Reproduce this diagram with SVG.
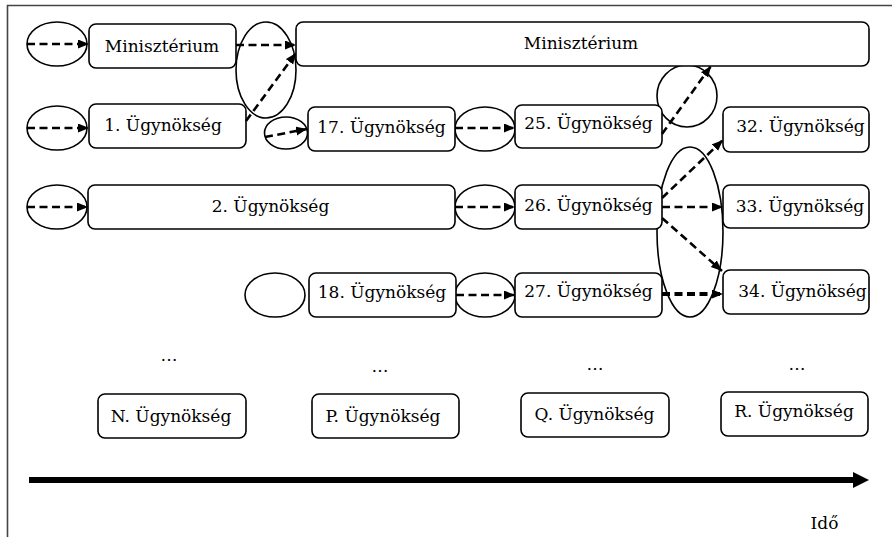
<svg xmlns="http://www.w3.org/2000/svg" width="892" height="537" viewBox="0 0 892 537">
<defs>
<marker id="ah" markerUnits="userSpaceOnUse" markerWidth="12" markerHeight="10" refX="11" refY="4.5" orient="auto">
<path d="M0,0 L11,4.5 L0,9 z" fill="#000"/>
</marker>
<style>
.box{fill:#fff;stroke:#000;stroke-width:1.6}
.ell{fill:none;stroke:#000;stroke-width:1.6}
.lbl{font-family:'DejaVu Serif',serif;font-size:17px;fill:#000;text-anchor:middle}
.dash{fill:none;stroke:#000;stroke-width:2.6;stroke-dasharray:8 4.5;marker-end:url(#ah)}
</style>
</defs>
<rect width="892" height="537" fill="#fff"/>
<path d="M7.5,537 V5.5 H892" fill="none" stroke="#444" stroke-width="1.6"/>

<g id="ellipses">
<ellipse class="ell" cx="57" cy="44" rx="30" ry="22"/>
<ellipse class="ell" cx="57" cy="128" rx="30" ry="22"/>
<ellipse class="ell" cx="57" cy="207" rx="30" ry="22"/>
<ellipse class="ell" cx="266" cy="70" rx="30" ry="48"/>
<ellipse class="ell" cx="286" cy="133" rx="21.5" ry="16"/>
<ellipse class="ell" cx="485" cy="129" rx="30" ry="22"/>
<ellipse class="ell" cx="485" cy="207" rx="30" ry="22"/>
<ellipse class="ell" cx="485" cy="295" rx="30" ry="22"/>
<ellipse class="ell" cx="275" cy="295" rx="30" ry="22"/>
<ellipse class="ell" cx="687" cy="96" rx="30" ry="31"/>
<ellipse class="ell" cx="690" cy="232" rx="33" ry="85"/>
</g>

<g id="n-mini1"><rect class="box" x="89" y="24" width="147" height="44" rx="7"/><text class="lbl" x="162" y="52">Minisztérium</text></g>
<g id="n-mini2"><rect class="box" x="296" y="22" width="573" height="44" rx="7"/><text class="lbl" x="581" y="49">Minisztérium</text></g>
<g id="n-1"><rect class="box" x="89" y="104" width="157" height="44" rx="7"/><text class="lbl" x="163" y="131">1. Ügynökség</text></g>
<g id="n-17"><rect class="box" x="308" y="107" width="147" height="44" rx="7"/><text class="lbl" x="381.5" y="133">17. Ügynökség</text></g>
<g id="n-25"><rect class="box" x="515" y="105" width="147" height="43" rx="7"/><text class="lbl" x="588.5" y="129">25. Ügynökség</text></g>
<g id="n-32"><rect class="box" x="723" y="107" width="146" height="45" rx="7"/><text class="lbl" x="800.5" y="132">32. Ügynökség</text></g>
<g id="n-2"><rect class="box" x="88" y="185" width="367" height="44" rx="7"/><text class="lbl" x="270.5" y="212">2. Ügynökség</text></g>
<g id="n-26"><rect class="box" x="515" y="185" width="147" height="44" rx="7"/><text class="lbl" x="588.5" y="211">26. Ügynökség</text></g>
<g id="n-33"><rect class="box" x="723" y="185" width="146" height="43" rx="7"/><text class="lbl" x="800" y="212">33. Ügynökség</text></g>
<g id="n-18"><rect class="box" x="309" y="273" width="147" height="44" rx="7"/><text class="lbl" x="382" y="298">18. Ügynökség</text></g>
<g id="n-27"><rect class="box" x="515" y="273" width="147" height="44" rx="7"/><text class="lbl" x="588.5" y="297">27. Ügynökség</text></g>
<g id="n-34"><rect class="box" x="723" y="270" width="146" height="44" rx="7"/><text class="lbl" x="802.5" y="297">34. Ügynökség</text></g>
<g id="n-N"><rect class="box" x="98" y="394" width="148" height="44" rx="7"/><text class="lbl" x="171" y="422">N. Ügynökség</text></g>
<g id="n-P"><rect class="box" x="312" y="394" width="147" height="44" rx="7"/><text class="lbl" x="383" y="422">P. Ügynökség</text></g>
<g id="n-Q"><rect class="box" x="521" y="393" width="148" height="44" rx="7"/><text class="lbl" x="594.5" y="420">Q. Ügynökség</text></g>
<g id="n-R"><rect class="box" x="721" y="392" width="147" height="44" rx="7"/><text class="lbl" x="794" y="417">R. Ügynökség</text></g>

<g id="dots">
<text class="lbl" x="169" y="361">…</text>
<text class="lbl" x="380" y="372">…</text>
<text class="lbl" x="595" y="370">…</text>
<text class="lbl" x="797" y="370">…</text>
</g>

<g id="connectors">
<line class="dash" x1="27" y1="44" x2="89" y2="44"/>
<line class="dash" x1="27" y1="128" x2="89" y2="128"/>
<line class="dash" x1="27" y1="207" x2="88" y2="207"/>
<line class="dash" x1="236" y1="45" x2="296" y2="45"/>
<line class="dash" x1="246" y1="121" x2="296" y2="53"/>
<line class="dash" x1="265" y1="137" x2="307" y2="129"/>
<line class="dash" x1="455" y1="128" x2="515" y2="128"/>
<line class="dash" x1="455" y1="207" x2="515" y2="207"/>
<line class="dash" x1="456" y1="295" x2="515" y2="295"/>
<line class="dash" x1="662" y1="134" x2="711" y2="66"/>
<line class="dash" x1="662" y1="198" x2="723" y2="140"/>
<line class="dash" x1="662" y1="207" x2="723" y2="207"/>
<line class="dash" x1="662" y1="218" x2="722" y2="271"/>
<line class="dash" style="stroke-width:3.8" x1="662" y1="294" x2="723" y2="294"/>
</g>

<g id="timeline">
<rect x="29" y="477" width="826" height="6" fill="#000"/>
<path d="M853,472 L869,480 L853,488 z" fill="#000"/>
<text class="lbl" x="824.5" y="529">Idő</text>
</g>
</svg>
